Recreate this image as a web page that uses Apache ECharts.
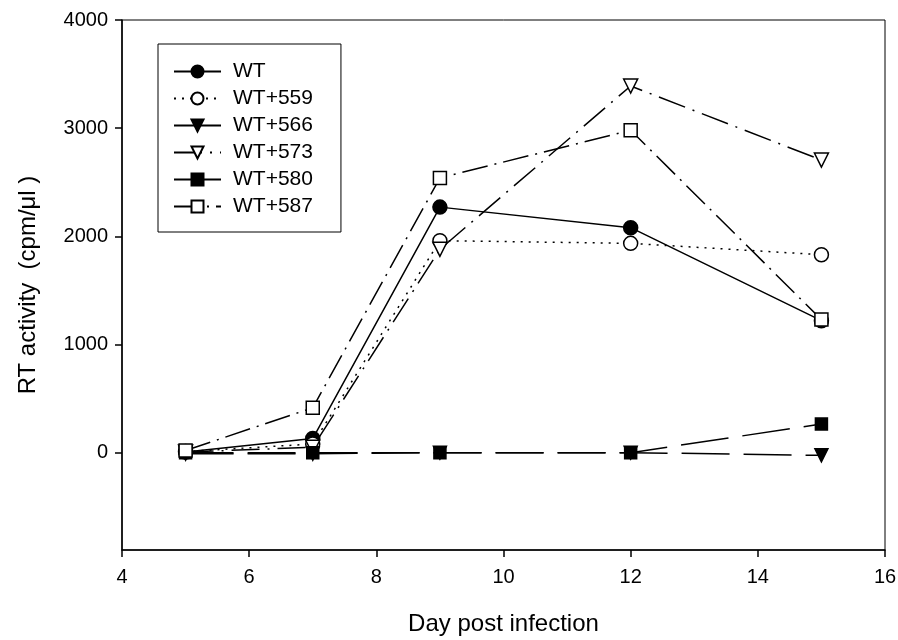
<!DOCTYPE html>
<html>
<head>
<meta charset="utf-8">
<script src="https://cdn.jsdelivr.net/npm/echarts@6/dist/echarts.min.js"></script>
<style>
  html, body { margin: 0; padding: 0; background: #fff; }
  #chart { width: 898px; height: 640px; }
</style>
</head>
<body>
<div id="chart"></div>
<script>
// days post infection
const days = [5, 7, 9, 12, 15];

// RT activity (cpm/ul)
const wt     = [5, 130, 2270, 2080, 1220];
const wt559  = [10, 80, 1960, 1935, 1830];
const wt566  = [-10, -10, 0, 0, -25];
const wt573  = [5, 50, 1880, 3390, 2705];
const wt580  = [0, 0, 0, 0, 265];
const wt587  = [20, 415, 2540, 2980, 1230];

const yTicks = [0, 1000, 2000, 3000, 4000];

const font = 'Liberation Sans, Arial, sans-serif';

function pairs(vals) {
  return days.map((d, i) => [d, vals[i]]);
}

function mk(name, vals, symbol, filled, dash, size, rotate) {
  return {
    name: name,
    type: 'line',
    data: pairs(vals),
    symbol: symbol,
    symbolSize: size,
    symbolRotate: rotate || 0,
    showSymbol: true,
    animation: false,
    lineStyle: { color: '#000', width: 1.5, type: dash },
    itemStyle: {
      color: filled ? '#000' : '#fff',
      borderColor: '#000',
      borderWidth: 1.5
    },
    emphasis: { disabled: true }
  };
}

const chart = echarts.init(document.getElementById('chart'));
chart.setOption({
  animation: false,
  backgroundColor: '#fff',
  grid: {
    left: 122, right: 13, top: 20, bottom: 90,
    outerBoundsMode: 'none',
    containLabel: false,
    show: true, borderColor: '#000', borderWidth: 1
  },
  legend: {
    orient: 'vertical',
    left: 158, top: 44,
    padding: [17, 28, 15, 15],
    itemWidth: 47, itemHeight: 15, itemGap: 6, itemTextGap: 13,
    borderColor: '#000', borderWidth: 1,
    textStyle: { color: '#000', fontSize: 21, fontFamily: font, padding: [0, 0, 0, 7] },
    data: ['WT', 'WT+559', 'WT+566', 'WT+573', 'WT+580', 'WT+587']
  },
  xAxis: {
    type: 'value',
    min: 4, max: 16, interval: 2,
    name: 'Day post infection',
    nameLocation: 'middle',
    nameGap: 62,
    nameTextStyle: { color: '#000', fontSize: 24, fontFamily: font },
    axisLine: { onZero: false, lineStyle: { color: '#000', width: 1.5 } },
    axisTick: { inside: false, length: 7, lineStyle: { color: '#000', width: 1.5 } },
    axisLabel: { color: '#000', fontSize: 20, fontFamily: font, margin: 17 },
    splitLine: { show: false }
  },
  yAxis: {
    type: 'value',
    min: -900, max: 4000,
    name: 'RT activity  (cpm/\u03bcl )',
    nameLocation: 'middle',
    nameGap: 82,
    nameTextStyle: { color: '#000', fontSize: 24, fontFamily: font },
    axisLine: { show: true, onZero: false, lineStyle: { color: '#000', width: 1.5 } },
    axisTick: { show: true, inside: false, length: 7, customValues: yTicks, lineStyle: { color: '#000', width: 1.5 } },
    axisLabel: {
      color: '#000', fontSize: 20, fontFamily: font, margin: 14, customValues: yTicks,
      formatter: v => String(v)
    },
    splitLine: { show: false }
  },
  series: [
    mk('WT', wt, 'circle', true, 'solid', 14),
    mk('WT+559', wt559, 'circle', false, [2, 6], 14),
    mk('WT+566', wt566, 'triangle', true, [48, 14], 13, 180),
    mk('WT+573', wt573, 'triangle', false, [28, 8, 2, 8], 14, 180),
    mk('WT+580', wt580, 'rect', true, [48, 14], 12),
    mk('WT+587', wt587, 'rect', false, [26, 7, 2, 7], 13)
  ]
});
</script>
</body>
</html>
